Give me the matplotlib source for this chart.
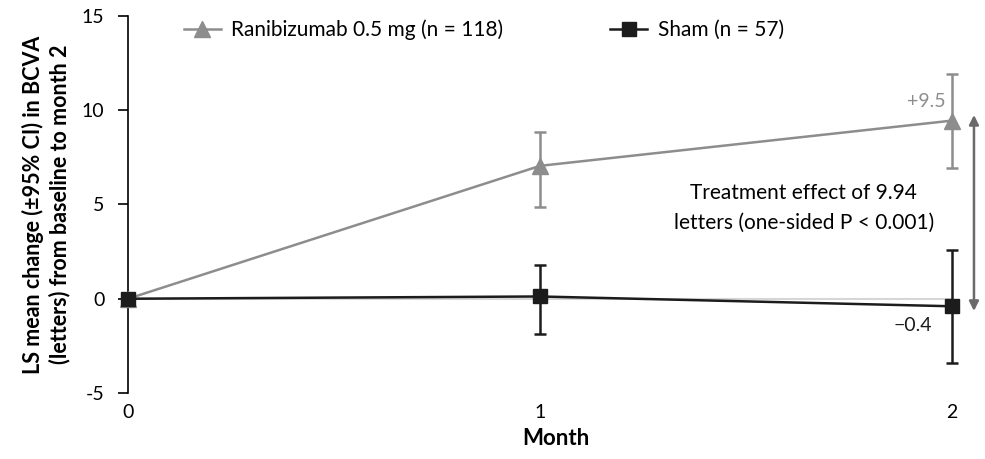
import numpy as np
import matplotlib
matplotlib.use("Agg")
import matplotlib.pyplot as plt

plt.rcParams['font.family'] = ['Lato', 'DejaVu Sans']
plt.rcParams['axes.unicode_minus'] = False

# data
months = [0, 1, 2]
month_labels = ["0", "1", "2"]
rani_mean = [0.0, 7.05, 9.45]
rani_lo = [0.0, 4.85, 6.95]
rani_hi = [0.0, 8.85, 11.9]
sham_mean = [0.0, 0.12, -0.4]
sham_lo = [0.0, -1.85, -3.4]
sham_hi = [0.0, 1.78, 2.6]

rani_label = "Ranibizumab 0.5 mg (n = 118)"
sham_label = "Sham (n = 57)"
gray = "#8d8d8d"
dark = "#1c1c1c"

fig = plt.figure(figsize=(9.85, 4.59), dpi=100)
ax = fig.add_axes([0.13, 0.1438, 0.868, 0.8214])

# faint reference line at 0
ax.plot([0, 2], [0, 0], color="#d6d6d6", lw=1.5, zorder=1)

r_err = [np.array(rani_mean) - np.array(rani_lo), np.array(rani_hi) - np.array(rani_mean)]
s_err = [np.array(sham_mean) - np.array(sham_lo), np.array(sham_hi) - np.array(sham_mean)]

ax.errorbar(months[1:], rani_mean[1:], yerr=[r_err[0][1:], r_err[1][1:]], fmt='none',
            ecolor=gray, elinewidth=1.8, capsize=4.5, capthick=1.8, zorder=2)
ax.plot(months, rani_mean, color=gray, lw=1.8, marker='^', markersize=11,
        label=rani_label, clip_on=False, zorder=3)
ax.errorbar(months[1:], sham_mean[1:], yerr=[s_err[0][1:], s_err[1][1:]], fmt='none',
            ecolor=dark, elinewidth=1.8, capsize=4.5, capthick=1.8, zorder=4)
ax.plot(months, sham_mean, color=dark, lw=1.8, marker='s', markersize=10,
        label=sham_label, clip_on=False, zorder=5)

# treatment effect arrow
ax.annotate("", xy=(2.053, 9.75), xytext=(2.053, -0.65),
            arrowprops=dict(arrowstyle="<|-|>", color="#6a6a6a", lw=1.8,
                            mutation_scale=14, shrinkA=0, shrinkB=0))

ax.text(1.937, 10.0, "+9.5", color=gray, fontsize=14, ha='center', va='bottom')
ax.text(1.905, -1.4, "\u22120.4", color=dark, fontsize=14, ha='center', va='center')
ax.text(1.64, 4.8, "Treatment effect of 9.94\nletters (one-sided P < 0.001)",
        fontsize=15, ha='center', va='center', linespacing=1.6)

ax.set_xlim(0, 2.075)
ax.set_ylim(-5, 15)
ax.set_yticks([-5, 0, 5, 10, 15])
ax.set_xticks(months)
ax.set_xticklabels(month_labels)
ax.tick_params(axis='y', labelsize=14, length=7, width=1.2, direction='out', pad=10)
ax.tick_params(axis='x', labelsize=14, length=0, pad=8)
for s in ['top', 'right', 'bottom']:
    ax.spines[s].set_visible(False)
ax.spines['left'].set_linewidth(1.2)
ax.spines['left'].set_position(('data', 0))

ax.set_xlabel("Month", fontsize=16, fontweight='bold', labelpad=5)
ax.set_ylabel("LS mean change (\u00b195% CI) in BCVA\n(letters) from baseline to month 2",
              fontsize=15.5, fontweight='bold', labelpad=8, linespacing=1.3)

ax.legend(loc='upper left', bbox_to_anchor=(0.043, 1.04), ncol=2, frameon=False,
          fontsize=15, handlelength=1.8, columnspacing=5.1, handletextpad=0.5)

fig.savefig("out.png", dpi=100)
